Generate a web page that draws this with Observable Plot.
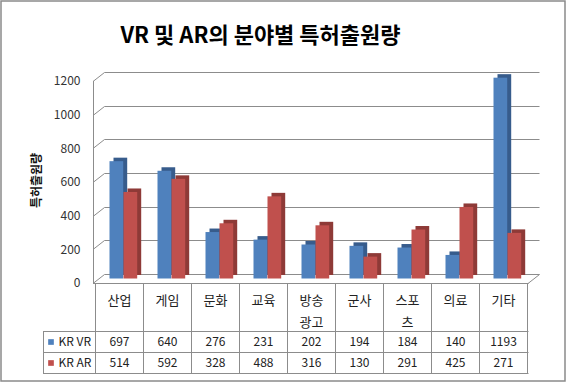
<!DOCTYPE html>
<html><head><meta charset="utf-8">
<script src="https://cdn.jsdelivr.net/npm/d3@7"></script>
<script src="https://cdn.jsdelivr.net/npm/@observablehq/plot@0.6"></script>
<style>body{margin:0;background:#fff} #chart svg{display:block}</style>
</head><body><div id="chart"></div>
<script>
const categories = ["산업","게임","문화","교육","방송\n광고","군사","스포\n츠","의료","기타"];
const seriesNames = ["KR VR","KR AR"];
const vrValues = [697,640,276,231,202,194,184,140,1193];
const arValues = [514,592,328,488,316,130,291,425,271];
const yTicks = [0,200,400,600,800,1000,1200];
const title = "VR 및 AR의 분야별 특허출원량";
const yLabel = "특허출원량";

const vrData = categories.map((c, i) => ({category: c, series: seriesNames[0], value: vrValues[i]}));
const arData = categories.map((c, i) => ({category: c, series: seriesNames[1], value: arValues[i]}));
const legendData = seriesNames.map((s, i) => ({series: s, row: i}));

const font = "'Noto Sans CJK KR','Noto Sans',sans-serif";
const blue = "#4F81BD", blueDark = "#375C8C", red = "#C0504D", redDark = "#8E3A37";
const gridColor = "#8c8c8c";
const W = 567, H = 387;
const mL = 93, mR = 39, mT = 81, mB = 104;
const bdx = 4.5, bdy = -4.5;   // bars sit mid-depth
const sdx = 4, sdy = -3.5;     // bar thickness
const wdx = 11.5, wdy = -9;    // wall depth
const rowH = 48, valH = 21, legendLeft = 43;

function walls(index, scales, values, dim) {
  const {y} = scales;
  const x0 = dim.marginLeft, x1 = dim.width - dim.marginRight;
  const g = d3.create("svg:g").attr("fill", "none").attr("stroke", gridColor).attr("stroke-width", 1);
  for (const t of yTicks) {
    const yy = Math.round(y(t)) + 0.5;
    g.append("path").attr("d", `M${x0},${yy}L${x0 + wdx},${yy + wdy}L${x1 + wdx},${yy + wdy}`);
  }
  const y0 = Math.round(y(0)) + 0.5;
  g.append("path").attr("d", `M${x0},${y0}L${x1},${y0}L${x1 + wdx},${y0 + wdy}`);
  g.append("path").attr("d", `M${x0 + 0.5},${Math.round(y(yTicks[yTicks.length - 1]))}V${y0}`);
  return g.node();
}

function tableLines(index, scales, values, dim) {
  const {x, y} = scales;
  const bw = x.bandwidth();
  const top = Math.round(y(0)) + 0.5;
  const r1 = top + rowH, r2 = r1 + valH, r3 = r2 + valH;
  const left = dim.marginLeft + 0.5, right = dim.width - dim.marginRight + 0.5;
  const g = d3.create("svg:g").attr("fill", "none").attr("stroke", gridColor).attr("stroke-width", 1);
  g.append("path").attr("d", `M${left},${top}H${right}M${legendLeft},${r1}H${right}M${legendLeft},${r2}H${right}M${legendLeft},${r3}H${right}`);
  for (const c of categories) {
    const xx = Math.round(x(c)) + 0.5;
    g.append("path").attr("d", `M${xx},${top}V${r3}`);
  }
  g.append("path").attr("d", `M${Math.round(x(categories[categories.length - 1]) + bw) + 0.5},${top}V${r3}`);
  g.append("path").attr("d", `M${legendLeft + 0.5},${r1}V${r3}`);
  g.append("rect").attr("x", 1).attr("y", 1).attr("width", 564).attr("height", 380).attr("stroke", "#8a8a8a").attr("stroke-width", 1.5);
  return g.node();
}

const line1 = d => d.split("\n")[0];
const line2 = d => d.split("\n")[1] || "";

const chart = Plot.plot({
  width: W, height: H,
  marginLeft: mL, marginRight: mR, marginTop: mT, marginBottom: mB,
  style: {fontFamily: font, fontSize: "12px", color: "#222", background: "#fff"},
  x: {type: "band", domain: categories, padding: 0, axis: null},
  y: {domain: [0, 1200], axis: null},
  color: {domain: seriesNames, range: [blue, red]},
  marks: [
    walls,
    Plot.axisY({ticks: yTicks, tickFormat: d3.format("d"), tickSize: 0, tickPadding: 13, fontSize: 12, fill: "#333", label: null}),
    Plot.barY(vrData, {x: "category", y: "value", fill: blueDark, insetLeft: 10, insetRight: 24.3, dx: bdx + sdx, dy: bdy + sdy}),
    Plot.barY(vrData, {x: "category", y: "value", fill: "series", insetLeft: 10, insetRight: 24.3, dx: bdx, dy: bdy}),
    Plot.barY(arData, {x: "category", y: "value", fill: redDark, insetLeft: 24, insetRight: 10.3, dx: bdx + sdx, dy: bdy + sdy}),
    Plot.barY(arData, {x: "category", y: "value", fill: "series", insetLeft: 24, insetRight: 10.3, dx: bdx, dy: bdy}),
    tableLines,
    Plot.text(categories, {x: d => d, text: line1, frameAnchor: "bottom", lineAnchor: "middle", dy: 17, fontSize: 13, fill: "#222"}),
    Plot.text(categories, {x: d => d, text: line2, frameAnchor: "bottom", lineAnchor: "middle", dy: 39, fontSize: 13, fill: "#222"}),
    Plot.text(vrData, {x: "category", text: d => String(d.value), frameAnchor: "bottom", lineAnchor: "middle", dy: rowH + valH / 2, fontSize: 12, fill: "#222"}),
    Plot.text(arData, {x: "category", text: d => String(d.value), frameAnchor: "bottom", lineAnchor: "middle", dy: rowH + valH * 1.5, fontSize: 12, fill: "#222"}),
    ...legendData.map((d, i) => Plot.dot([d], {frameAnchor: "bottom-left", symbol: "square", r: 3.2, fill: "series", dx: legendLeft + 7.5 - mL, dy: rowH + valH * (i + 0.5)})),
    ...legendData.map((d, i) => Plot.text([d], {frameAnchor: "bottom-left", text: "series", textAnchor: "start", lineAnchor: "middle", dx: 58 - mL, dy: rowH + valH * (i + 0.5), fontSize: 12, fill: "#222"})),
    Plot.text([yLabel], {frameAnchor: "left", textAnchor: "middle", lineAnchor: "middle", rotate: -90, dx: 37 - mL, dy: -2, fontSize: 12, fontWeight: "bold", fill: "#111"}),
    Plot.text([title], {frameAnchor: "top", textAnchor: "middle", lineAnchor: "middle", dx: 260 - (mL + (W - mR)) / 2, dy: 35 - mT, fontSize: 22, fontWeight: "bold", fill: "#000"})
  ]
});
document.getElementById("chart").append(chart);
</script>
</body></html>
